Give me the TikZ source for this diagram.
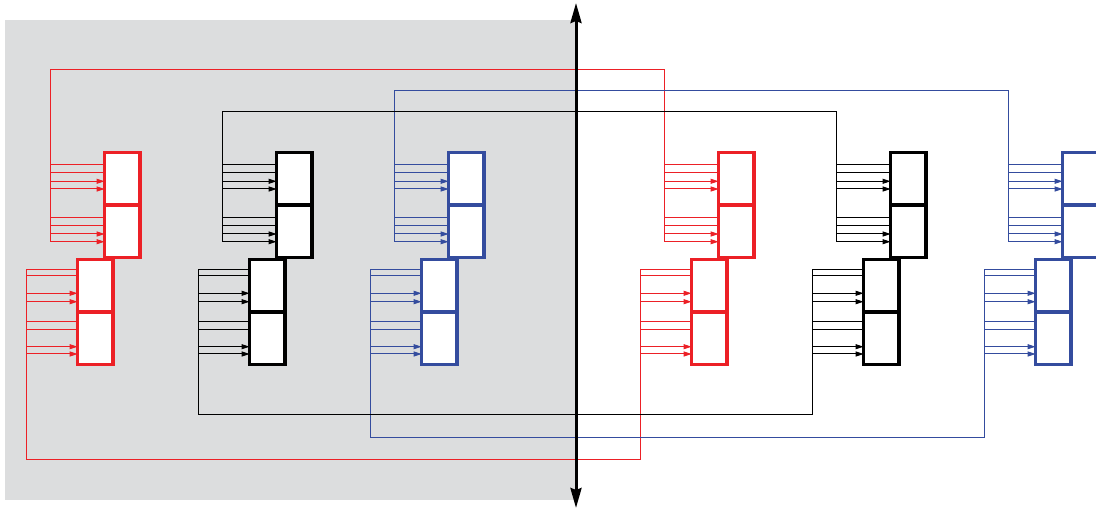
\documentclass[tikz,border=0pt]{standalone}
\usetikzlibrary{arrows.meta,calc}
\definecolor{busred}{RGB}{236,32,38}
\definecolor{busblue}{RGB}{52,76,158}
\definecolor{bgray}{RGB}{220,221,222}
\pgfdeclarelayer{back}
\pgfdeclarelayer{wires}
\pgfsetlayers{back,wires,main}
\tikzset{
  cell/.style={draw, line width=3.3pt, fill=white, minimum width=35.3pt,
    minimum height=52.5pt, inner sep=0pt, outer sep=0pt, anchor=north west},
  wire/.style={line width=1pt},
  feed/.style={wire, -{Triangle[length=8pt,width=5pt]}},
  axis/.style={line width=3pt,
    {Stealth[length=20pt,width=11pt,inset=2pt]}-{Stealth[length=20pt,width=11pt,inset=2pt]}}
}
\begin{document}
\begin{tikzpicture}[x=1pt,y=-1pt]
\useasboundingbox (0,0) rectangle (1096,510);
\clip (0,0) rectangle (1096,510);
\begin{pgfonlayer}{back}
  \fill[bgray] (5,20) rectangle (576,500);
\end{pgfonlayer}

% six register stacks: two cells on top, two cells shifted left below
\foreach \g/\u/\c in {rl/103/busred, kl/275/black, bl/447/busblue,
                      rr/717/busred, kr/889/black, br/1061/busblue}{
  \coordinate (\g-ub) at (\u-53,0);
  \coordinate (\g-lb) at (\u-77,0);
  \node[cell, draw=\c] (\g-1) at (\u+1.6,152.6) {};
  \node[cell, draw=\c] (\g-2) at (\u+1.6,205.1) {};
  \node[cell, draw=\c] (\g-3) at (\u-25.4,259.4) {};
  \node[cell, draw=\c] (\g-4) at (\u-25.4,311.9) {};
  \begin{pgfonlayer}{wires}
    \foreach \y/\k in {164.3/1,172.7/1,217.7/2,225.3/2}
      \draw[wire, \c] ($(\g-ub)+(0,\y)$) -- (\g-\k.west |- 0,\y);
    \foreach \y/\k in {181.3/1,189/1,234/2,241.7/2}
      \draw[feed, \c] ($(\g-ub)+(0,\y)$) -- (\g-\k.west |- 0,\y);
    \foreach \y/\k in {269.3/3,275.7/3,321.7/4,329.3/4}
      \draw[wire, \c] ($(\g-lb)+(0,\y)$) -- (\g-\k.west |- 0,\y);
    \foreach \y/\k in {293.3/3,301.7/3,346.7/4,354/4}
      \draw[feed, \c] ($(\g-lb)+(0,\y)$) -- (\g-\k.west |- 0,\y);
  \end{pgfonlayer}
}

% buses joining each left stack to its partner on the right
\begin{pgfonlayer}{wires}
  \foreach \a/\b/\c/\t/\d in {rl/rr/busred/70/460, bl/br/busblue/91/438, kl/kr/black/112/415}{
    \draw[wire, \c] ($(\a-ub)+(0,241.7)$) -- ($(\a-ub)+(0,\t)$) -| ($(\b-ub)+(0,241.7)$);
    \draw[wire, \c] ($(\a-lb)+(0,269.3)$) -- ($(\a-lb)+(0,\d)$) -| ($(\b-lb)+(0,269.3)$);
  }
\end{pgfonlayer}

% dividing axis
\coordinate (axtop) at (576,3);
\coordinate (axbot) at (576,508);
\draw[axis] (axbot) -- (axtop);
\end{tikzpicture}
\end{document}
